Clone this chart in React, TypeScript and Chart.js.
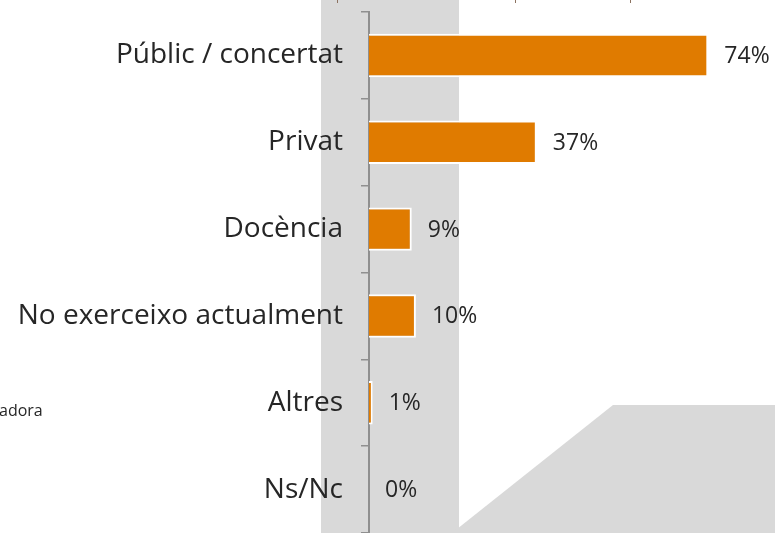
import React, { useEffect, useRef } from "react";
import { Chart, registerables } from "chart.js";

Chart.register(...registerables);

const categories = ["Públic / concertat", "Privat", "Docència", "No exerceixo actualment", "Altres", "Ns/Nc"];
const values = [73.8, 36.5, 9.3, 10.2, 0.8, 0];
const valueLabels = ["74%", "37%", "9%", "10%", "1%", "0%"];

const FONT = "'Open Sans', 'DejaVu Sans', sans-serif";

const backgroundPlugin = {
  id: "bgShapes",
  beforeDraw(chart: any) {
    const ctx = chart.ctx;
    ctx.save();
    ctx.fillStyle = "#ffffff";
    ctx.fillRect(0, 0, chart.width, chart.height);
    ctx.fillStyle = "#d9d9d9";
    ctx.fillRect(321, 0, 138, chart.height);
    ctx.beginPath();
    ctx.moveTo(613, 405);
    ctx.lineTo(chart.width, 405);
    ctx.lineTo(chart.width, chart.height);
    ctx.lineTo(452, chart.height);
    ctx.closePath();
    ctx.fill();
    ctx.strokeStyle = "#8c7260";
    ctx.lineWidth = 1;
    [337, 515, 630].forEach((x) => {
      ctx.beginPath();
      ctx.moveTo(x + 0.5, 0);
      ctx.lineTo(x + 0.5, 3);
      ctx.stroke();
    });
    ctx.fillStyle = "#262626";
    ctx.font = `16px ${FONT}`;
    ctx.textAlign = "left";
    ctx.textBaseline = "middle";
    ctx.fillText("adora", -1, 411);
    ctx.restore();
  },
};

const labelPlugin = {
  id: "valueLabels",
  afterDatasetsDraw(chart: any) {
    const ctx = chart.ctx;
    const meta = chart.getDatasetMeta(0);
    ctx.save();
    ctx.fillStyle = "#262626";
    ctx.font = `23px ${FONT}`;
    ctx.textAlign = "left";
    ctx.textBaseline = "middle";
    meta.data.forEach((bar: any, i: number) => {
      ctx.fillText(valueLabels[i], bar.x + 16, bar.y + 1);
    });
    ctx.restore();
  },
};

export default function App() {
  const ref = useRef<HTMLCanvasElement>(null);
  useEffect(() => {
    if (!ref.current) return;
    const chart = new Chart(ref.current, {
      type: "bar",
      data: {
        labels: categories,
        datasets: [
          {
            data: values,
            backgroundColor: "#e07b00",
            borderColor: "#ffffff",
            borderWidth: 2,
            borderSkipped: "start",
            barPercentage: 0.5,
            categoryPercentage: 1,
          },
        ],
      },
      options: {
        indexAxis: "y",
        responsive: false,
        animation: false,
        layout: { padding: { top: 12, right: 0, bottom: 0, left: 0 } },
        plugins: { legend: { display: false }, tooltip: { enabled: false } },
        scales: {
          x: { display: false, min: 0, max: 88.3 },
          y: {
            afterFit: (scale: any) => {
              scale.width = 369;
              scale.paddingTop = 0;
              scale.paddingBottom = 0;
            },
            grid: {
              drawOnChartArea: false,
              tickLength: 8,
              color: "#8f8f8f",
              lineWidth: 1.5,
            },
            border: { display: true, color: "#8f8f8f", width: 2 },
            ticks: {
              padding: 18,
              color: "#262626",
              font: { family: FONT, size: 28 },
            },
          },
        },
      },
      plugins: [backgroundPlugin, labelPlugin],
    });
    return () => chart.destroy();
  }, []);
  return (
    <div style={{ position: "absolute", left: 0, top: 0, width: 775, height: 533 }}>
      <canvas ref={ref} width={775} height={533} />
    </div>
  );
}
